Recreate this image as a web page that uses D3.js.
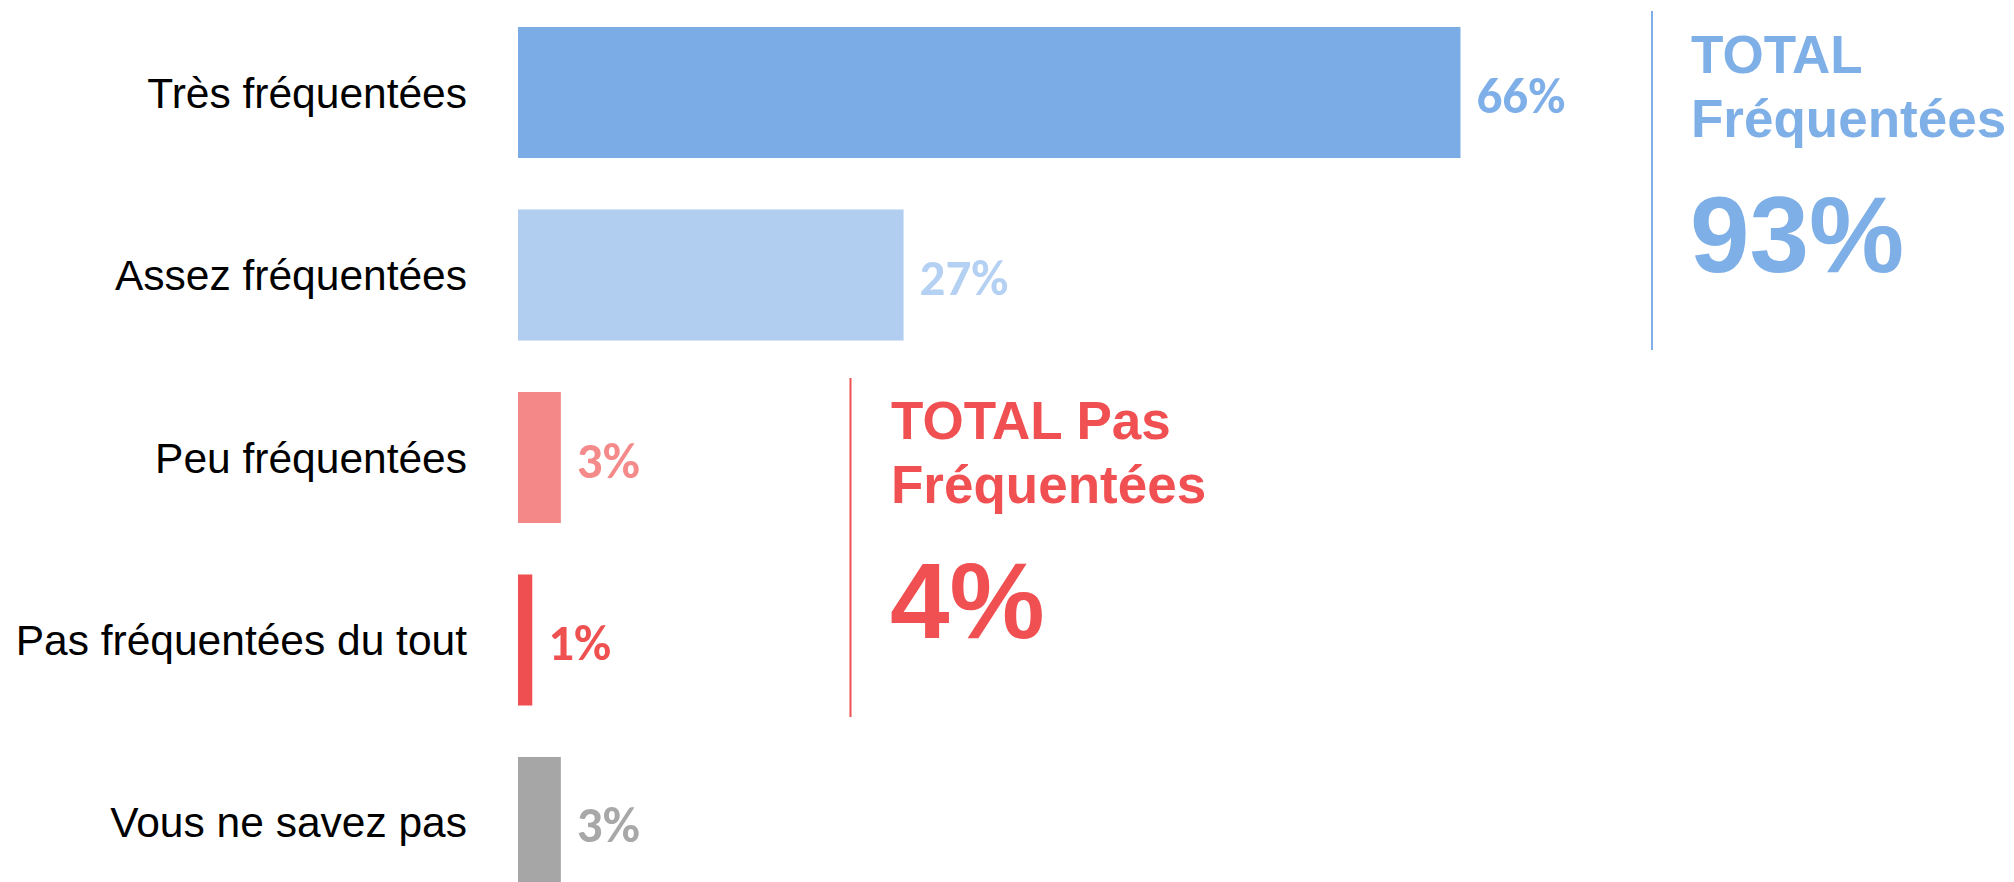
<!DOCTYPE html>
<html>
<head>
<meta charset="utf-8">
<script src="https://cdn.jsdelivr.net/npm/d3@7"></script>
<style>
  body { margin: 0; background: #fff; }
  svg { display: block; }
</style>
</head>
<body>
<script>
  const categories = ['Très fréquentées', 'Assez fréquentées', 'Peu fréquentées', 'Pas fréquentées du tout', 'Vous ne savez pas'];
  const values = [66, 27, 3, 1, 3];
  const barColors = ['#7cace5', '#b1cdf0', '#f48888', '#ef4f51', '#a6a6a6'];
  const labelColors = ['#7fafe8', '#b4d0f2', '#f48a8a', '#ef5050', '#a8a8a8'];

  const totalTitles = [['TOTAL', 'Fréquentées'], ['TOTAL Pas', 'Fréquentées']];
  const totalValues = [93, 4];
  const totalColors = ['#7eafe6', '#f05052'];

  const width = 2014, height = 882;

  const svg = d3.select('body').append('svg')
    .attr('width', width)
    .attr('height', height);

  const x = d3.scaleLinear().domain([0, 100]).range([518, 1946]);
  const y = d3.scaleBand().domain(categories).range([27, 888]).paddingInner(0.282).paddingOuter(0);

  // bars
  svg.selectAll('rect.bar')
    .data(values)
    .join('rect')
    .attr('class', 'bar')
    .attr('x', x(0))
    .attr('y', (d, i) => y(categories[i]))
    .attr('width', d => x(d) - x(0))
    .attr('height', y.bandwidth())
    .attr('fill', (d, i) => barColors[i]);

  // category labels
  svg.selectAll('text.cat')
    .data(categories)
    .join('text')
    .attr('class', 'cat')
    .attr('x', 467)
    .attr('y', d => y(d) + y.bandwidth() / 2 + 15)
    .attr('text-anchor', 'end')
    .attr('font-family', '"Liberation Sans", Arial, sans-serif')
    .attr('font-size', 42.5)
    .attr('fill', '#000')
    .text(d => d);

  // value labels
  svg.selectAll('text.val')
    .data(values)
    .join('text')
    .attr('class', 'val')
    .attr('x', d => x(d) + 16)
    .attr('y', (d, i) => y(categories[i]) + y.bandwidth() / 2 + 20)
    .attr('font-family', 'Carlito, Lato, sans-serif')
    .attr('font-weight', 'bold')
    .attr('font-size', 51)
    .attr('fill', (d, i) => labelColors[i])
    .text(d => d + '%');

  // total boxes
  const boxes = [
    {lineX: 1652, top: 11, bottom: 350, textX: 1691, firstBase: 73},
    {lineX: 850.5, top: 378, bottom: 717, textX: 891, firstBase: 439}
  ];

  boxes.forEach((b, i) => {
    const g = svg.append('g');
    g.append('line')
      .attr('x1', b.lineX).attr('x2', b.lineX)
      .attr('y1', b.top).attr('y2', b.bottom)
      .attr('stroke', totalColors[i])
      .attr('stroke-width', 2);

    g.selectAll('text.title')
      .data(totalTitles[i])
      .join('text')
      .attr('class', 'title')
      .attr('x', b.textX)
      .attr('y', (d, j) => b.firstBase + j * 64)
      .attr('font-family', '"Liberation Sans", Arial, sans-serif')
      .attr('font-weight', 'bold')
      .attr('font-size', 53)
      .attr('fill', totalColors[i])
      .text(d => d);

    g.append('text')
      .attr('x', b.textX - 1)
      .attr('y', b.firstBase + 199)
      .attr('font-family', '"Liberation Sans", Arial, sans-serif')
      .attr('font-weight', 'bold')
      .attr('font-size', 107)
      .attr('fill', totalColors[i])
      .text(totalValues[i] + '%');
  });
</script>
</body>
</html>
